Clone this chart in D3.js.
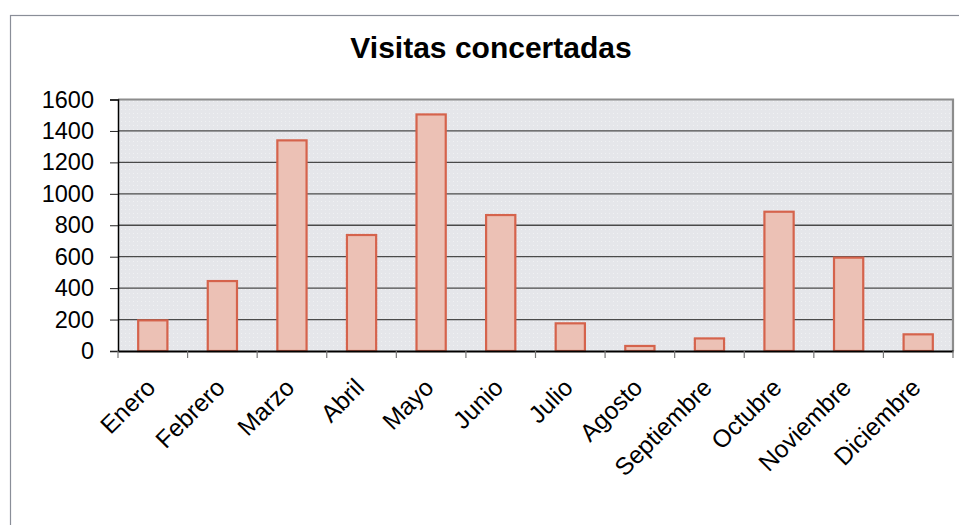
<!DOCTYPE html>
<html><head><meta charset="utf-8">
<script src="https://cdn.jsdelivr.net/npm/d3@7"></script>
<style>body{margin:0;background:#fff}svg{display:block}text{font-family:"Liberation Sans",Arial,sans-serif}</style>
</head><body><svg id="c" width="959" height="525"></svg>
<script>
const months = ["Enero","Febrero","Marzo","Abril","Mayo","Junio","Julio","Agosto","Septiembre","Octubre","Noviembre","Diciembre"];
const visitas = [195, 445, 1340, 738, 1505, 865, 176, 32, 80, 886, 594, 106];
const yTicks = [0,200,400,600,800,1000,1200,1400,1600];
const title = "Visitas concertadas";

const svg = d3.select("#c");
const m = {l:118, r:953, t:99.5, b:351};
const x = d3.scaleBand().domain(months).range([m.l, m.r]).paddingInner(0.58).paddingOuter(0.29);
const xb = d3.scaleBand().domain(months).range([m.l, m.r]);
const y = d3.scaleLinear().domain([0,1600]).range([m.b, m.t]);

// outer border
svg.append("rect").attr("x",10.5).attr("y",15.5).attr("width",980).attr("height",600)
  .attr("fill","#fff").attr("stroke","#8a8e98").attr("stroke-width",1.2);

// pattern
const defs = svg.append("defs");
const p = defs.append("pattern").attr("id","dots").attr("width",4).attr("height",4).attr("patternUnits","userSpaceOnUse");
p.append("rect").attr("width",4).attr("height",4).attr("fill","#e5e6ea");
p.append("rect").attr("x",1).attr("y",1).attr("width",1).attr("height",1).attr("fill","#f0f1f3");

svg.append("rect").attr("x",m.l).attr("y",m.t).attr("width",m.r-m.l).attr("height",m.b-m.t).attr("fill","url(#dots)");

// gridlines
svg.append("g").selectAll("line").data(yTicks.filter(d=>d>0 && d<1600)).join("line")
  .attr("x1",m.l).attr("x2",m.r).attr("y1",d=>y(d)).attr("y2",d=>y(d))
  .attr("stroke","#4a4a4a").attr("stroke-width",1.3);
// top & right border
svg.append("path").attr("d",`M${m.l},${m.t}H${m.r}V${m.b}`).attr("fill","none").attr("stroke","#8c8c8c").attr("stroke-width",2.2);

// bars
svg.append("g").selectAll("rect").data(months).join("rect")
  .attr("x",d=>x(d)).attr("width",x.bandwidth())
  .attr("y",(d,i)=>y(visitas[i])).attr("height",(d,i)=>y(0)-y(visitas[i]))
  .attr("fill","#ecc1b5").attr("stroke","#d5634c").attr("stroke-width",2.2);

// y axis
const ya = svg.append("g").attr("transform",`translate(${m.l},0)`)
  .call(d3.axisLeft(y).tickValues(yTicks).tickSize(8).tickPadding(16).tickFormat(d3.format("d")));
ya.select(".domain").attr("stroke","#000").attr("stroke-width",1.5);
ya.selectAll(".tick line").attr("stroke","#222");
ya.selectAll("text").attr("font-size",23.5).attr("fill","#000").attr("font-family","Liberation Sans, Arial, sans-serif");

// x axis
const xa = svg.append("g").attr("transform",`translate(0,${m.b})`)
  .call(d3.axisBottom(xb).tickSize(0).tickFormat(""));
xa.select(".domain").attr("stroke","#000").attr("stroke-width",1.8);
xa.selectAll(".tick").remove();
svg.append("g").selectAll("line").data(months.concat(["_end"])).join("line")
  .attr("x1",(d,i)=>i<12?xb(d):m.r).attr("x2",(d,i)=>i<12?xb(d):m.r)
  .attr("y1",m.b).attr("y2",m.b+7).attr("stroke","#777").attr("stroke-width",1.2);

svg.append("g").selectAll("text").data(months).join("text")
  .attr("transform",d=>`translate(${xb(d)+xb.bandwidth()/2+4},${m.b+38}) rotate(-45)`)
  .attr("text-anchor","end").attr("font-size",24.5).attr("fill","#000").text(d=>d);

// title
svg.append("text").attr("x",491).attr("y",58).attr("text-anchor","middle")
  .attr("font-size",30).attr("font-weight","bold").attr("fill","#000").text(title);
</script></body></html>
